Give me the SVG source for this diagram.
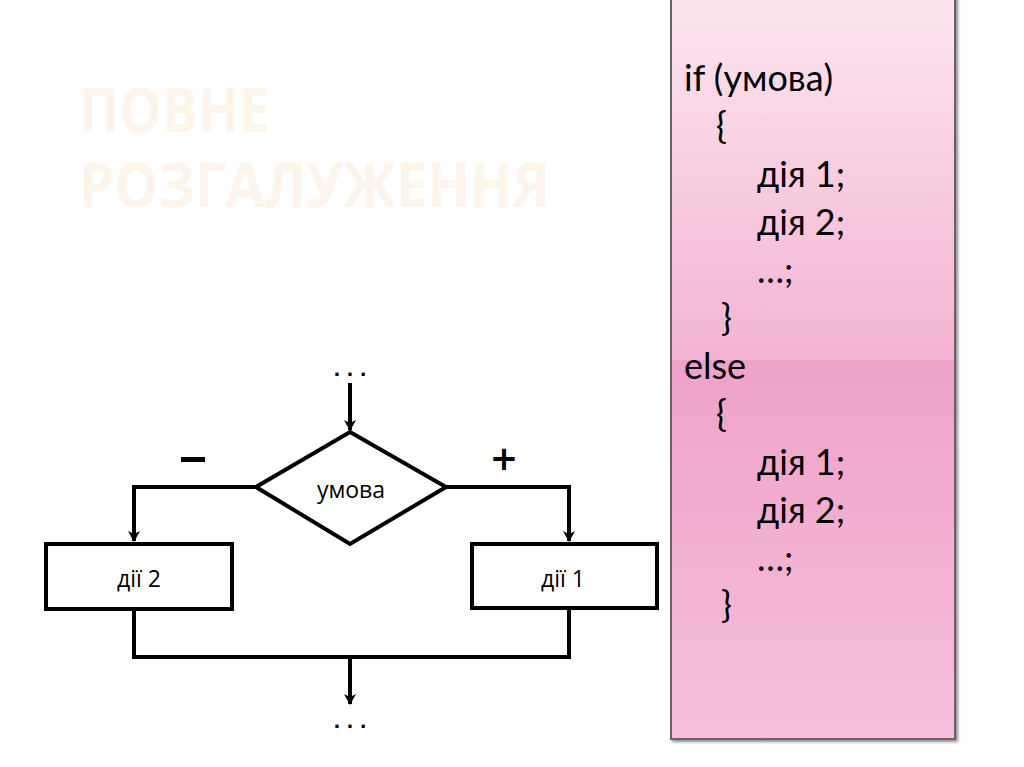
<svg xmlns="http://www.w3.org/2000/svg" width="1024" height="767" viewBox="0 0 1024 767">
<defs>
<linearGradient id="g1" x1="0" y1="0" x2="0" y2="1">
<stop offset="0" stop-color="#FDE6F0"/>
<stop offset="1" stop-color="#F3B3D2"/>
</linearGradient>
<linearGradient id="g2" x1="0" y1="0" x2="0" y2="1">
<stop offset="0" stop-color="#EEA2C8"/>
<stop offset="1" stop-color="#F7BFDB"/>
</linearGradient>
<marker id="ah" markerWidth="12" markerHeight="12" refX="10" refY="6" orient="auto" markerUnits="userSpaceOnUse">
<path d="M0,0 L11,6 L0,12 L3,6 Z" fill="#000"/>
</marker>
<filter id="sh" x="-10%" y="-10%" width="130%" height="130%">
<feDropShadow dx="2" dy="2" stdDeviation="1.5" flood-color="#000" flood-opacity="0.45"/>
</filter>
</defs>
<style>
.code{font-family:Lato,"Open Sans","DejaVu Sans",sans-serif;font-size:36px;fill:#000}
.lbl{font-family:"Open Sans","DejaVu Sans",sans-serif;font-size:23px;fill:#000}
.box{fill:#fff;stroke:#000;stroke-width:4}
.ln{fill:none;stroke:#000;stroke-width:4;stroke-linejoin:miter}
.dots{font-family:"DejaVu Sans",sans-serif;font-size:18px;font-weight:bold;fill:#000}
.sign{font-family:"DejaVu Sans",sans-serif;font-size:34px;font-weight:bold;fill:#000}
</style>
<rect width="1024" height="767" fill="#fff"/>
<g id="title" font-family="'Open Sans','DejaVu Sans',sans-serif" font-weight="bold" fill="#FDF5EC">
<text x="79" y="132" font-size="61" textLength="190" lengthAdjust="spacingAndGlyphs">ПОВНЕ</text>
<text x="79" y="207" font-size="61" textLength="471" lengthAdjust="spacingAndGlyphs">РОЗГАЛУЖЕННЯ</text>
</g>
<g id="code-panel" filter="url(#sh)">
<rect x="671" y="-2" width="284" height="362" fill="url(#g1)"/>
<rect x="671" y="360" width="284" height="379" fill="url(#g2)"/>
<rect x="671" y="-2" width="284" height="741" fill="none" stroke="#6E5F6C" stroke-width="2"/>
</g>
<g id="code-text">
<text class="code" x="684" y="91">if (умова)</text>
<text class="code" x="716" y="139">{</text>
<text class="code" x="757" y="187">дія 1;</text>
<text class="code" x="757" y="235">дія 2;</text>
<text class="code" x="757" y="283">…;</text>
<text class="code" x="721" y="331">}</text>
<text class="code" x="684" y="379">else</text>
<text class="code" x="716" y="427">{</text>
<text class="code" x="757" y="475">дія 1;</text>
<text class="code" x="757" y="523">дія 2;</text>
<text class="code" x="757" y="571">…;</text>
<text class="code" x="721" y="618">}</text>
</g>
<g id="connectors">
<line class="ln" x1="350" y1="383" x2="350" y2="430" marker-end="url(#ah)"/>
<polyline class="ln" points="256,487 134,487 134,541" marker-end="url(#ah)"/>
<polyline class="ln" points="446,487 569,487 569,541" marker-end="url(#ah)"/>
<polyline class="ln" points="134,609 134,657 569,657 569,608"/>
<line class="ln" x1="350" y1="657" x2="350" y2="704" marker-end="url(#ah)"/>
</g>
<g id="start-dots"><text class="dots" x="350" y="376" text-anchor="middle">. . .</text></g>
<g id="end-dots"><text class="dots" x="350" y="728" text-anchor="middle">. . .</text></g>
<g id="condition">
<polygon class="box" points="350,432 446,487 350,544 256,487"/>
<text class="lbl" x="351" y="498" text-anchor="middle">умова</text>
</g>
<g id="minus-label"><rect x="181" y="457" width="24" height="5" fill="#000"/></g>
<g id="plus-label"><text class="sign" x="504" y="470" text-anchor="middle">+</text></g>
<g id="action2">
<rect class="box" x="46" y="544" width="186" height="65"/>
<text class="lbl" x="139" y="587" text-anchor="middle">дії 2</text>
</g>
<g id="action1">
<rect class="box" x="472" y="544" width="185" height="64"/>
<text class="lbl" x="563" y="587" text-anchor="middle">дії 1</text>
</g>
</svg>
